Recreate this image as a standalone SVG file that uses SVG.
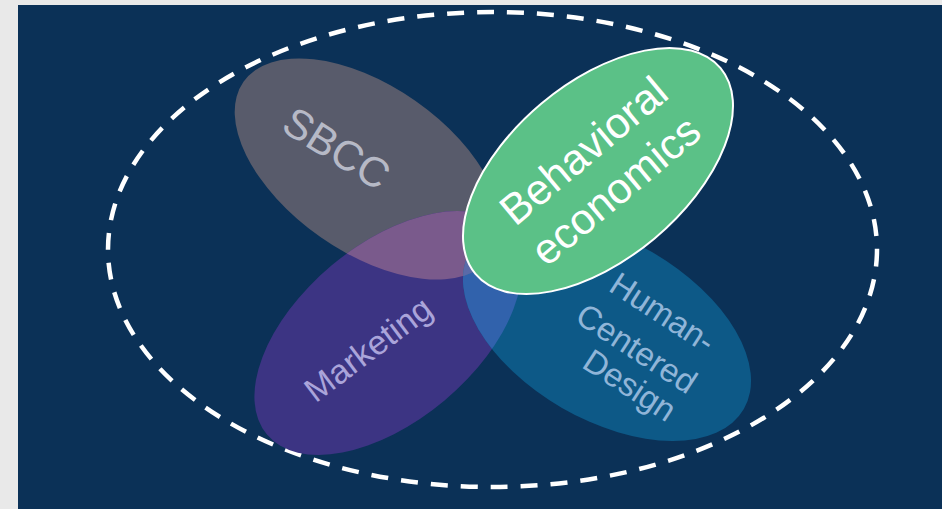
<svg xmlns="http://www.w3.org/2000/svg" width="942" height="509" viewBox="0 0 942 509">
<style>
  text { font-family: "Liberation Sans", Arial, sans-serif; text-anchor: middle; }
  .sbcc-t { font-size: 42px; fill: #b6b9c6; }
  .mkt-t { font-size: 34px; fill: #aaa4da; }
  .hcd-t { font-size: 33px; fill: #90b5d8; }
  .be-t { font-size: 43px; fill: #ffffff; }
</style>
<defs>
  <ellipse id="e-sbcc" cx="0" cy="0" rx="152" ry="83" transform="translate(368,169) rotate(35)"/>
  <ellipse id="e-mkt" cx="0" cy="0" rx="158" ry="88" transform="translate(388,333) rotate(-40)"/>
  <ellipse id="e-hcd" cx="0" cy="0" rx="158" ry="90" transform="translate(607,330) rotate(30)"/>
  <clipPath id="c-mkt"><use href="#e-mkt"/></clipPath>
  <clipPath id="c-hcd"><use href="#e-hcd"/></clipPath>
</defs>
<rect x="0" y="0" width="942" height="509" fill="#e9e9e9"/>
<rect x="18" y="5" width="924" height="504" fill="#0b3157"/>
<g id="boundary">
  <ellipse cx="492.5" cy="249.5" rx="384.5" ry="237.5" fill="none" stroke="#ffffff" stroke-width="4.5" stroke-dasharray="17 13"/>
</g>
<g id="connectors"/>
<g id="sbcc">
  <use href="#e-sbcc" fill="#585b6b"/>
</g>
<g id="marketing">
  <use href="#e-mkt" fill="#3c3483"/>
</g>
<g id="hcd">
  <use href="#e-hcd" fill="#0d5987"/>
</g>
<g id="overlaps">
  <use href="#e-sbcc" fill="#7a5a8c" clip-path="url(#c-mkt)"/>
  <use href="#e-mkt" fill="#3162ac" clip-path="url(#c-hcd)"/>
  <use href="#e-sbcc" fill="#4b6a88" clip-path="url(#c-hcd)"/>
  <g clip-path="url(#c-mkt)"><use href="#e-sbcc" fill="#5a6aa8" clip-path="url(#c-hcd)"/></g>
</g>
<g id="labels">
  <text class="sbcc-t" transform="translate(337,148) rotate(32)" y="15">SBCC</text>
  <text class="mkt-t" transform="translate(368,349) rotate(-37)" y="12">Marketing</text>
  <text class="hcd-t" transform="translate(663,312) rotate(33)" y="12">Human-</text>
  <text class="hcd-t" transform="translate(637,348) rotate(33)" y="12">Centered</text>
  <text class="hcd-t" transform="translate(628,388) rotate(33)" y="8">Design</text>
</g>
<g id="behavioral-economics">
  <ellipse cx="0" cy="0" rx="160" ry="88" transform="translate(598,171) rotate(-40)" fill="#5bc187" stroke="#ffffff" stroke-width="2"/>
  <text class="be-t" transform="translate(598,171) rotate(-40)"><tspan x="2" y="-10">Behavioral</tspan><tspan x="1" y="41">economics</tspan></text>
</g>
</svg>
